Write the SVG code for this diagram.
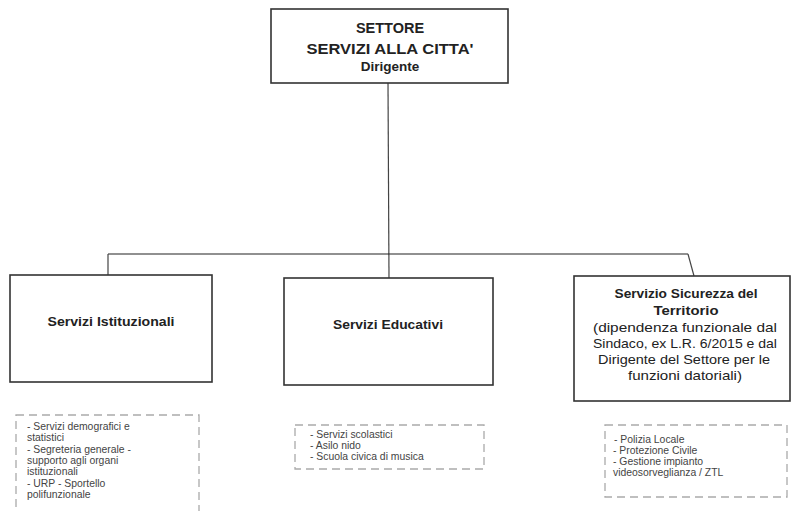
<svg xmlns="http://www.w3.org/2000/svg" width="798" height="511" viewBox="0 0 798 511">
<style>
.box{fill:#fff;stroke:#333;stroke-width:1.6}
.dash{fill:#fff;stroke:#aaa;stroke-width:1.3;stroke-dasharray:8 5}
.conn{fill:none;stroke:#444;stroke-width:1.2}
.hd{font-family:"Liberation Sans",Arial,sans-serif;font-weight:bold;fill:#222;text-anchor:middle}
.sub{font-family:"Liberation Sans",Arial,sans-serif;fill:#222;text-anchor:middle;font-size:13.2px}
.lst{font-family:"Liberation Sans",Arial,sans-serif;fill:#444;font-size:10.4px}
</style>
<rect width="798" height="511" fill="#fff"/>
<g id="connectors">
<line class="conn" x1="388" y1="83" x2="389" y2="278"/>
<line class="conn" x1="108" y1="254" x2="688" y2="254" style="stroke:#222"/>
<line class="conn" x1="108" y1="254" x2="108" y2="275"/>
<line class="conn" x1="688" y1="254" x2="694" y2="276"/>
</g>
<g id="top">
<rect class="box" x="271" y="9" width="237" height="74"/>
<text class="hd" x="390" y="33" font-size="14.5">SETTORE</text>
<text class="hd" x="390" y="54" font-size="15.5" textLength="167" lengthAdjust="spacingAndGlyphs">SERVIZI ALLA CITTA'</text>
<text class="hd" x="390" y="71" font-size="13.5">Dirigente</text>
</g>
<g id="istituzionali">
<rect class="box" x="10" y="275" width="202" height="107"/>
<text class="hd" x="111" y="326" font-size="13.5" textLength="127" lengthAdjust="spacingAndGlyphs">Servizi Istituzionali</text>
</g>
<g id="educativi">
<rect class="box" x="284" y="278" width="209" height="107"/>
<text class="hd" x="388" y="329" font-size="13.5" textLength="110" lengthAdjust="spacingAndGlyphs">Servizi Educativi</text>
</g>
<g id="sicurezza">
<rect class="box" x="574" y="276" width="216" height="125"/>
<text class="hd" x="686" y="298" font-size="13.5" textLength="143" lengthAdjust="spacingAndGlyphs">Servizio Sicurezza del</text>
<text class="hd" x="686" y="315" font-size="13.5" textLength="65" lengthAdjust="spacingAndGlyphs">Territorio</text>
<text class="sub" x="685" y="332" textLength="184" lengthAdjust="spacingAndGlyphs">(dipendenza funzionale dal</text>
<text class="sub" x="685" y="348" textLength="184" lengthAdjust="spacingAndGlyphs">Sindaco, ex L.R. 6/2015 e dal</text>
<text class="sub" x="684" y="364" textLength="172" lengthAdjust="spacingAndGlyphs">Dirigente del Settore per le</text>
<text class="sub" x="685" y="380" textLength="114" lengthAdjust="spacingAndGlyphs">funzioni datoriali)</text>
</g>
<g id="list-istituzionali">
<rect class="dash" x="16" y="415" width="183" height="110"/>
<text class="lst" x="27" y="430">- Servizi demografici e</text>
<text class="lst" x="27" y="441">statistici</text>
<text class="lst" x="27" y="452.5">- Segreteria generale -</text>
<text class="lst" x="27" y="464">supporto agli organi</text>
<text class="lst" x="27" y="475">istituzionali</text>
<text class="lst" x="27" y="486.5">- URP - Sportello</text>
<text class="lst" x="27" y="498">polifunzionale</text>
</g>
<g id="list-educativi">
<rect class="dash" x="295" y="425" width="189" height="44"/>
<text class="lst" x="310" y="438">- Servizi scolastici</text>
<text class="lst" x="310" y="449">- Asilo nido</text>
<text class="lst" x="310" y="460">- Scuola civica di musica</text>
</g>
<g id="list-sicurezza">
<rect class="dash" x="605" y="425" width="182" height="72"/>
<text class="lst" x="614" y="443">-  Polizia Locale</text>
<text class="lst" x="613" y="454">- Protezione Civile</text>
<text class="lst" x="613" y="465">- Gestione impianto</text>
<text class="lst" x="613" y="476">videosorveglianza / ZTL</text>
</g>
</svg>
